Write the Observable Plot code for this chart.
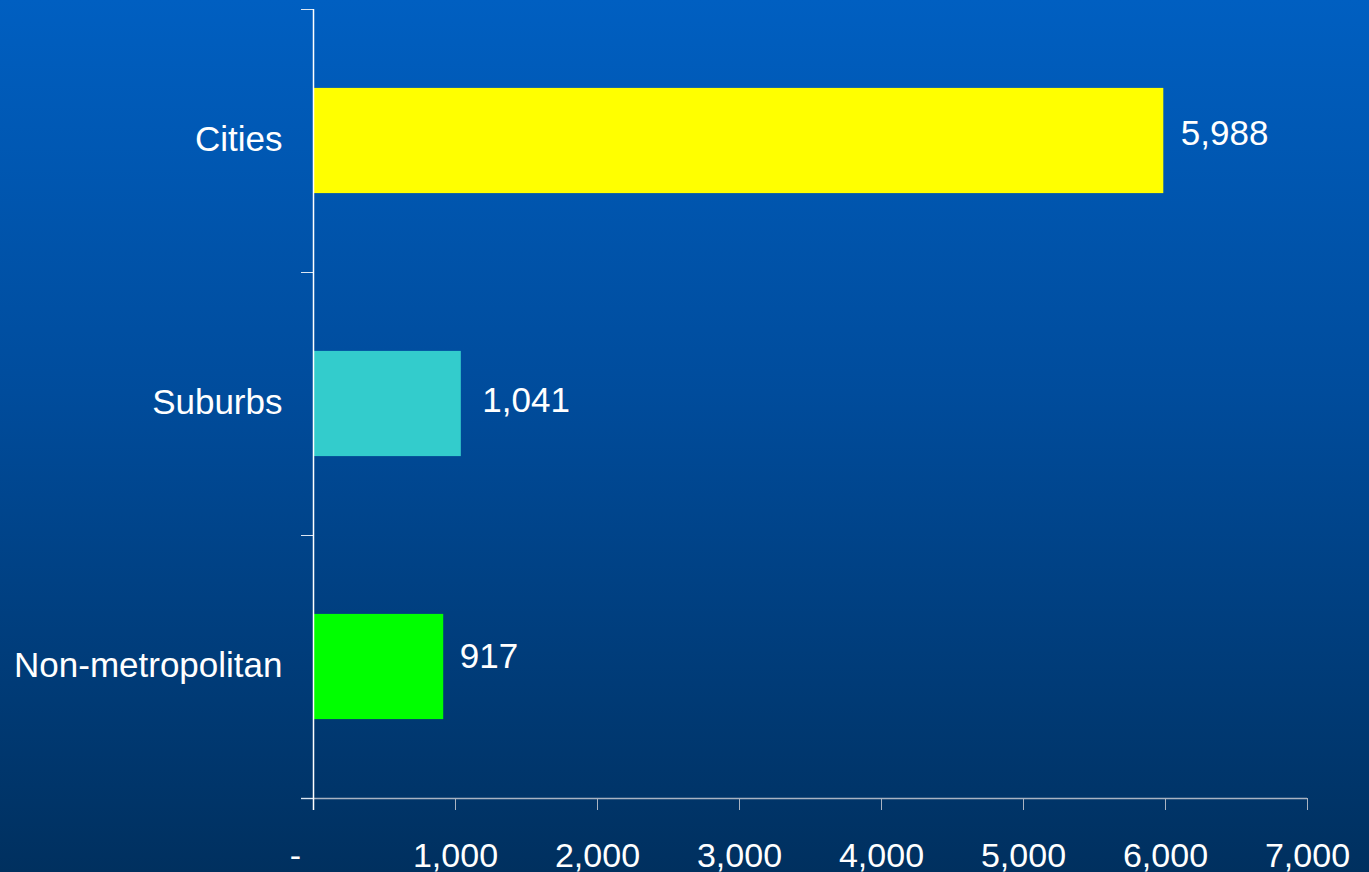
<!DOCTYPE html>
<html>
<head>
<meta charset="utf-8">
<script src="https://cdn.jsdelivr.net/npm/d3@7"></script>
<script src="https://cdn.jsdelivr.net/npm/@observablehq/plot@0.6"></script>
<style>
  html, body { margin: 0; padding: 0; overflow: hidden; background: #003a75; }
  #chart svg { display: block; }
</style>
</head>
<body>
<div id="chart"></div>
<script>
// ---- data ----
const categories = ["Cities", "Suburbs", "Non-metropolitan"];
const values = [5988, 1041, 917];
const barColors = ["#FFFF00", "#33CCCC", "#00FF00"];
const xTicks = [1000, 2000, 3000, 4000, 5000, 6000, 7000];
const zeroLabel = "-";

// styling: per-label nudges of the value labels (pixels)
const labelNudge = [[17, -7], [21, -3.5], [16, -10.5]];

const fmt = d3.format(",");
const data = categories.map((c, i) => ({category: c, value: values[i], color: barColors[i], idx: i}));
const bandEdges = d3.range(categories.length + 1);
const pad = 0.3;

const chart = Plot.plot({
  width: 1369,
  height: 872,
  marginLeft: 313,
  marginRight: 62,
  marginTop: 9,
  marginBottom: 74,
  style: {
    background: "linear-gradient(to bottom, #005FC1 0%, #004C9C 45%, #00305F 100%)",
    fontFamily: "'Liberation Sans', Arial, sans-serif",
    color: "white"
  },
  x: {domain: [0, 7000], axis: null, label: null},
  y: {domain: [0, categories.length], reverse: true, axis: null, label: null},
  marks: [
    // bars
    Plot.rectX(data, {
      x1: 0, x2: "value",
      y1: d => d.idx + pad, y2: d => d.idx + 1 - pad,
      fill: "color"
    }),
    // x axis line
    Plot.ruleY([categories.length], {stroke: "#A9B3C2", strokeWidth: 1.5, insetLeft: -12}),
    // x ticks + labels
    Plot.axisX(xTicks, {
      tickSize: 12, tickPadding: 32, stroke: "#A9B3C2", fill: "white",
      fontSize: 34, tickFormat: fmt, strokeOpacity: 1, label: null
    }),
    Plot.axisX([0], {
      tickSize: 0, tickPadding: 44, fill: "white", fontSize: 34,
      tickFormat: () => zeroLabel, dx: -18, label: null
    }),
    // y axis ticks at band edges
    Plot.axisY(bandEdges, {
      tickSize: 12, stroke: "#DCE6F2", strokeOpacity: 1, tickFormat: () => "", anchor: "left", label: null
    }),
    // y axis line
    Plot.ruleX([0], {stroke: "white", strokeWidth: 1.5, insetBottom: -12}),
    // category labels
    Plot.text(data, {
      y: d => d.idx + 0.5, text: "category", frameAnchor: "left",
      textAnchor: "end", dx: -31, dy: -1, fill: "white", fontSize: 35
    }),
    // value labels
    ...data.map((d, i) => Plot.text([d], {
      x: "value", y: r => r.idx + 0.5, text: r => fmt(r.value),
      textAnchor: "start", dx: labelNudge[i][0], dy: labelNudge[i][1], fill: "white", fontSize: 35
    }))
  ]
});
document.getElementById("chart").appendChild(chart);
</script>
</body>
</html>
